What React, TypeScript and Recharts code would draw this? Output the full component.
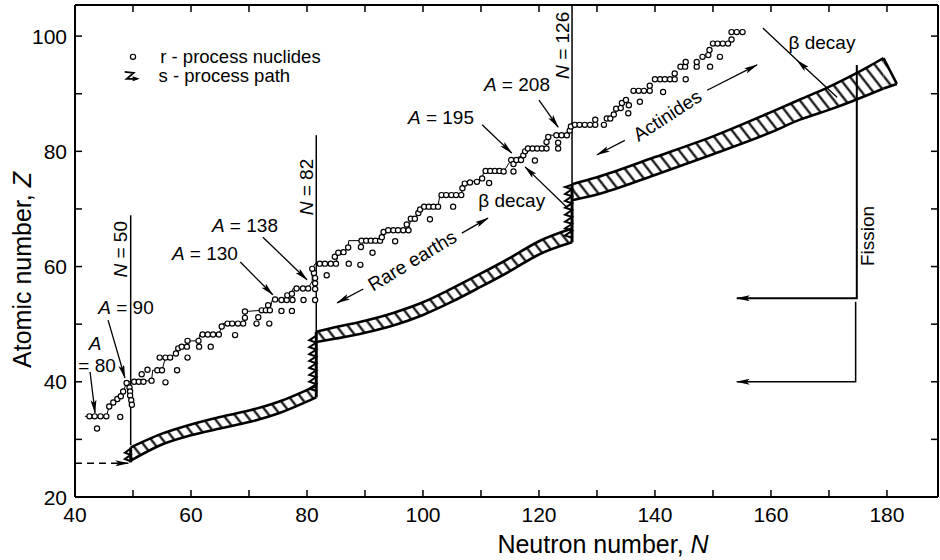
import React from "react";
import { ComposedChart, XAxis, YAxis, Line, Area, Scatter } from "recharts";

const FONT = "'Liberation Sans', Arial, Helvetica, sans-serif";

// ---------- axes ----------
const xTicks = [40, 50, 60, 70, 80, 90, 100, 110, 120, 130, 140, 150, 160, 170, 180];
const xTickLabels = [40, 60, 80, 100, 120, 140, 160, 180];
const yTicks = [20, 30, 40, 50, 60, 70, 80, 90, 100];
const yTickLabels = [20, 40, 60, 80, 100];
const xDomain = [40, 188.8];
const yDomain = [20, 105.4];

// ---------- r-process nuclides (N, Z) ----------
const rNuclides: [number, number][] = [
  [42.5, 34], [43.4, 34], [44.4, 34], [45.4, 34], [43.8, 31.9], [47.8, 33.9],
  [45.9, 35.7], [46.6, 36.4], [47.3, 37.0], [47.9, 37.5], [48.3, 38.3],
  [48.9, 39.8], [49.4, 39.0], [49.5, 38.3], [49.5, 37.6], [49.7, 36.8], [49.8, 36.0],
  [50.2, 40], [51.0, 40], [51.8, 40], [53.2, 40.2], [55.6, 39.9],
  [51.5, 41.3], [52.5, 42.1], [54.2, 42], [55.0, 42], [57.6, 42],
  [54.6, 44.2], [55.6, 44.2], [56.4, 44.2], [57.4, 44.9], [57.8, 45.8], [58.4, 46.1], [59.3, 46.1],
  [59.4, 47.1], [59.4, 44.2], [61.3, 47.1], [61.4, 46.1], [63.4, 46.1],
  [62.0, 48.2], [62.9, 48.2], [63.8, 48.2], [64.8, 48.2], [67.6, 48.1],
  [65.3, 49.6], [66.3, 50.1], [67.1, 50.1], [68.1, 50.1], [69.0, 50.1], [69.3, 51.1], [69.3, 52.2],
  [71.3, 50.1], [71.6, 51.2], [73.5, 50.1],
  [72.2, 52.4], [72.9, 52.4], [73.3, 53.3], [73.6, 52.4], [74.5, 54.3],
  [75.6, 52.3], [77.4, 52.3],
  [75.6, 54.2], [76.5, 54.2], [76.6, 55.0], [77.4, 55.3], [77.5, 54.2],
  [78.2, 56.2], [79.3, 56.2], [80.2, 56.2], [79.4, 54.2], [81.4, 54.2],
  [81.4, 56.1], [81.4, 57.1], [81.4, 58.0], [81.2, 58.9], [80.9, 59.6],
  [82.2, 60.5], [83.1, 60.5], [84.1, 60.5], [85.0, 60.5], [87.2, 60.5], [89.2, 60.3], [83.4, 58.5],
  [84.8, 61.7], [85.4, 62.4], [86.3, 62.5], [87.1, 63.3], [91.3, 62.4],
  [89.3, 63.4], [89.4, 64.5], [90.2, 64.5], [91.0, 64.5], [91.8, 64.5], [92.6, 64.5],
  [92.9, 65.1], [93.2, 66.0], [94.0, 66.3], [94.9, 66.3], [95.7, 66.3], [96.6, 66.3], [97.5, 66.3], [95.2, 64.4],
  [97.2, 67.3], [97.9, 68.3], [98.6, 68.3], [99.2, 69.3], [99.5, 69.9],
  [100.2, 70.4], [101.0, 70.4], [101.8, 70.4], [102.6, 70.4], [101.2, 68.2],
  [103.2, 72.4], [104.0, 72.4], [104.9, 72.4], [105.7, 72.4], [106.6, 72.4], [105.2, 70.4],
  [106.8, 73.6], [107.2, 74.4], [108.1, 74.6], [109.3, 74.7], [110.2, 75.3], [111.4, 74.5],
  [110.8, 76.6], [111.6, 76.6], [112.4, 76.6], [113.2, 76.6], [113.9, 76.5], [115.6, 76.5],
  [115.2, 78.5], [115.6, 77.8], [116.1, 78.5], [116.9, 78.5], [117.3, 79.3], [117.6, 80.0], [119.3, 78.4],
  [118.1, 80.5], [118.9, 80.5], [119.7, 80.5], [120.5, 80.5], [121.3, 80.5],
  [121.3, 81.6], [121.6, 82.5], [123.3, 81.5], [123.3, 80.5],
  [123.0, 82.8], [123.9, 82.8], [124.8, 82.8], [125.3, 83.6], [125.5, 84.3],
  [126.2, 84.6], [127.0, 84.6], [127.9, 84.6], [128.8, 84.6], [129.7, 84.6], [129.7, 85.5],
  [131.2, 84.6], [131.7, 85.7], [132.3, 85.7], [132.9, 86.4], [133.3, 87.4], [134.1, 87.5],
  [134.3, 88.4], [135.0, 88.9], [135.4, 86.6], [135.5, 88.0],
  [136.3, 90.5], [137.2, 90.5], [138.1, 90.5], [139.1, 90.5], [139.1, 91.4], [137.4, 88.6], [141.4, 90.3],
  [140.0, 92.5], [140.9, 92.5], [141.7, 92.5], [142.6, 92.5], [143.4, 92.5], [143.4, 93.5], [145.3, 92.5],
  [144.4, 94.7], [145.2, 94.7], [145.3, 95.5], [147.2, 94.7], [147.2, 95.5], [149.5, 94.7],
  [148.2, 96.4], [149.2, 96.7], [149.4, 97.6], [151.2, 96.4],
  [150.0, 98.7], [150.8, 98.7], [151.7, 98.7], [152.6, 98.7], [153.2, 99.4],
  [153.2, 100.7], [154.1, 100.7], [155.1, 100.7],
];

// thin r-process path
const rPath: [number, number][] = [
  [41.7, 34], [45.4, 34], [45.9, 35.7], [46.6, 36.4], [47.3, 37.0], [47.9, 37.5], [48.3, 38.3],
  [48.9, 39.8], [49.3, 40], [53.2, 40.2], [53.4, 42.0], [55.0, 42], [55.6, 44.2], [56.4, 44.2],
  [57.4, 44.9], [57.8, 45.8], [58.4, 46.1], [59.4, 46.1], [59.4, 47.1], [61.3, 47.1], [61.5, 48.2],
  [64.8, 48.2], [65.3, 49.6], [65.5, 50.1], [69.0, 50.1], [69.3, 51.1], [69.3, 52.2], [72.2, 52.4],
  [73.6, 52.4], [74.0, 54.2], [76.5, 54.2], [76.6, 55.0], [77.4, 55.3], [77.6, 56.2], [80.2, 56.2],
  [80.9, 57.5], [80.9, 59.6], [81.4, 60.5], [85.0, 60.5], [85.4, 62.4], [86.3, 62.5], [87.1, 63.3],
  [87.2, 64.5], [92.6, 64.5], [92.9, 65.1], [93.2, 66.0], [93.4, 66.3], [97.5, 66.3], [97.9, 68.3],
  [98.6, 68.3], [99.2, 69.3], [99.5, 69.9], [99.8, 70.4], [102.6, 70.4], [102.9, 72.4], [106.6, 72.4],
  [106.8, 73.6], [107.2, 74.4], [108.1, 74.6], [110.2, 75.3], [110.5, 76.6], [113.9, 76.5],
  [115.2, 78.5], [117.3, 79.3], [117.6, 80.0], [118.1, 80.5], [121.3, 80.5], [121.3, 81.6],
  [121.6, 82.5], [121.8, 82.8], [124.8, 82.8], [125.3, 83.6], [125.5, 84.3], [126.2, 84.6], [129.7, 84.6],
];

// ---------- s-process band (N, lower Z, upper Z) ----------
const band1: [number, number, number][] = [
  [49.6, 26.3, 28.6], [55, 29.1, 31.0], [60, 30.7, 32.6], [65, 31.9, 33.9],
  [70, 33.0, 35.0], [75, 34.5, 36.5], [81.6, 37.3, 39.3],
];
const band2: [number, number, number][] = [
  [81.6, 46.9, 48.7], [85, 47.5, 49.5], [90, 48.5, 50.6], [95, 49.8, 52.0], [100, 51.6, 53.8],
  [105, 53.9, 56.2], [110, 56.5, 58.8], [115, 59.2, 61.5], [120, 62.1, 64.4], [125.7, 64.2, 66.6],
];
const band3: [number, number, number][] = [
  [125.7, 71.5, 74.3], [130, 72.5, 75.5], [140, 75.9, 79.0], [150, 79.5, 82.6], [160, 83.3, 86.8],
  [165, 85.5, 89.0], [170, 87.2, 91.2], [174, 88.7, 93.2], [177, 89.9, 94.8], [179.4, 90.9, 96.2],
];
const band3Cap: [number, number, number][] = [[179.4, 90.9, 96.2], [181.7, 91.7, 91.7]];

// zig-zag (s-process steps at closed shells)
const zig50: [number, number][] = [[49.6, 26.2], [48.6, 26.6], [49.6, 27.3], [48.6, 27.7], [49.6, 28.4]];
const zig82: [number, number][] = [
  [81.6, 38.4], [80.4, 38.8], [81.6, 39.6], [80.4, 40.0], [81.6, 40.8], [80.4, 41.2], [81.6, 42.0],
  [80.4, 42.4], [81.6, 43.2], [80.4, 43.6], [81.6, 44.4], [80.4, 44.8], [81.6, 45.6], [80.4, 46.0],
  [81.6, 46.8], [80.4, 47.2], [81.6, 48.0],
];
const zig126: [number, number][] = [
  [125.7, 65.0], [124.5, 65.4], [125.7, 66.2], [124.5, 66.6], [125.7, 67.4], [124.5, 67.8],
  [125.7, 68.6], [124.5, 69.0], [125.7, 69.8], [124.5, 70.2], [125.7, 71.0], [124.5, 71.4],
  [125.7, 72.2], [124.5, 72.6], [125.7, 73.4], [124.5, 73.8], [125.7, 74.2],
];
const spine50: [number, number][] = [[49.6, 26.0], [49.6, 28.6]];
const spine82: [number, number][] = [[81.6, 37.3], [81.6, 48.7]];
const spine126: [number, number][] = [[125.7, 64.2], [125.7, 74.3]];

// closed-shell marker lines
const n50Line: [number, number][] = [[49.6, 29.0], [49.6, 68.9]];
const n82Line: [number, number][] = [[81.6, 48.5], [81.6, 82.8]];
const n126Line: [number, number][] = [[125.7, 74.3], [125.7, 105.4]];

// dashed incoming path
const dashedIn: [number, number][] = [[40, 25.85], [49.2, 25.85]];

// annotation arrows (tail -> tip)
const arrA80: [number, number][] = [[42.6, 41.7], [43.45, 34.6]];
const arrA90: [number, number][] = [[45.7, 50.7], [48.6, 40.7]];
const arrA130: [number, number][] = [[68.5, 60.8], [74.1, 55.1]];
const arrA138: [number, number][] = [[72.4, 65.1], [80.0, 57.7]];
const arrA195: [number, number][] = [[110.2, 84.6], [115.3, 79.7]];
const arrA208: [number, number][] = [[120.0, 88.9], [123.3, 84.2]];
const arrBeta1: [number, number][] = [[124.8, 70.3], [117.6, 77.3]];
const arrRareL: [number, number][] = [[89.7, 56.1], [85.2, 53.7]];
const arrRareR: [number, number][] = [[106.7, 65.8], [111.2, 68.4]];
const arrActL: [number, number][] = [[134.8, 81.9], [130.0, 79.4]];
const arrActR: [number, number][] = [[149.0, 90.6], [157.6, 95.0]];
const arrBeta2: [number, number][] = [[171.4, 89.4], [164.5, 95.8], [158.6, 101.4]];
const fission1: [number, number][] = [[174.8, 95.0], [174.8, 54.5], [154.1, 54.5]];
const fission2: [number, number][] = [[174.6, 53.9], [174.6, 40.0], [154.1, 40.0]];

type Part = [string, boolean];
interface Annot { N: number; Z: number; parts: Part[]; rot?: number; size?: number; anchor?: string; kind?: string }

const annotations: Annot[] = [
  { N: 47.8, Z: 63.0, parts: [["N", true], [" = 50", false]], rot: -90 },
  { N: 79.8, Z: 73.8, parts: [["N", true], [" = 82", false]], rot: -90 },
  { N: 124.0, Z: 98.4, parts: [["N", true], [" = 126", false]], rot: -90 },
  { N: 43.45, Z: 46.7, parts: [["A", true]] },
  { N: 43.8, Z: 42.9, parts: [["= 80", false]] },
  { N: 48.8, Z: 53.0, parts: [["A", true], [" = 90", false]] },
  { N: 62.4, Z: 62.3, parts: [["A", true], [" = 130", false]] },
  { N: 69.3, Z: 67.2, parts: [["A", true], [" = 138", false]] },
  { N: 103.1, Z: 85.9, parts: [["A", true], [" = 195", false]] },
  { N: 116.2, Z: 91.7, parts: [["A", true], [" = 208", false]] },
  { N: 115.3, Z: 71.5, parts: [["β decay", false]] },
  { N: 168.8, Z: 99.0, parts: [["β decay", false]] },
  { N: 98.1, Z: 61.1, parts: [["Rare earths", false]], rot: -31 },
  { N: 142.1, Z: 86.3, parts: [["Actinides", false]], rot: -33 },
  { N: 176.6, Z: 65.3, parts: [["Fission", false]], rot: -90 },
  { N: 54.7, Z: 96.6, parts: [["r - process nuclides", false]], anchor: "start", size: 18.5 },
  { N: 54.4, Z: 93.2, parts: [["s - process path", false]], anchor: "start", size: 18.5 },
  { N: 50.0, Z: 96.4, parts: [], kind: "dot" },
  { N: 49.6, Z: 93.1, parts: [], kind: "zig" },
];

const pts = (rows: [number, number][]) => rows.map(([N, Z]) => ({ N, Z }));
const bandPts = (rows: [number, number, number][]) => rows.map(([N, lo, hi]) => ({ N, r: [lo, hi] }));

const BottomTick = (p: any) => {
  const { x, y, payload } = p;
  const v = payload.value;
  return (
    <g>
      <line x1={x} y1={y} x2={x} y2={y - 7} stroke="#000" strokeWidth={1.5} />
      {xTickLabels.includes(v) && (
        <text x={x} y={y + 25} textAnchor="middle" fontSize={21} fontFamily={FONT} fill="#000">{v}</text>
      )}
    </g>
  );
};
const TopTick = (p: any) => {
  const { x, y } = p;
  return <line x1={x} y1={y} x2={x} y2={y + 7} stroke="#000" strokeWidth={1.5} />;
};
const LeftTick = (p: any) => {
  const { x, y, payload } = p;
  const v = payload.value;
  return (
    <g>
      <line x1={x} y1={y} x2={x + 7} y2={y} stroke="#000" strokeWidth={1.5} />
      {yTickLabels.includes(v) && (
        <text x={x - 8} y={y + 7.5} textAnchor="end" fontSize={21} fontFamily={FONT} fill="#000">{v}</text>
      )}
    </g>
  );
};
const RightTick = (p: any) => {
  const { x, y } = p;
  return <line x1={x} y1={y} x2={x - 7} y2={y} stroke="#000" strokeWidth={1.5} />;
};

const Circ = (p: any) => (
  <circle cx={p.cx} cy={p.cy} r={2.6} fill="#fff" stroke="#000" strokeWidth={1.2} />
);

const AnnotShape = (p: any) => {
  const { cx, cy, payload } = p;
  const a: Annot = payload;
  if (a.kind === "dot") return <circle cx={cx} cy={cy} r={2.6} fill="#fff" stroke="#000" strokeWidth={1.2} />;
  if (a.kind === "zig")
    return (
      <g>
        <path d={`M${cx - 6},${cy - 4} L${cx + 3},${cy - 3} L${cx - 4},${cy + 3} L${cx + 6},${cy + 3}`} fill="none" stroke="#000" strokeWidth={1.8} />
        <path d={`M${cx + 9},${cy + 3} L${cx + 2},${cy + 0.5} L${cx + 2},${cy + 5.5} z`} fill="#000" />
      </g>
    );
  const rot = a.rot || 0;
  return (
    <text
      x={cx}
      y={cy}
      transform={rot ? `rotate(${rot} ${cx} ${cy})` : undefined}
      textAnchor={a.anchor || "middle"}
      dominantBaseline="central"
      fontSize={a.size || 19}
      fontFamily={FONT}
      fill="#000"
      style={{ whiteSpace: "pre" }}
    >
      {a.parts.map(([t, it], i) => (
        <tspan key={i} fontStyle={it ? "italic" : "normal"}>{t}</tspan>
      ))}
    </text>
  );
};

const XTitle = (p: any) => {
  const vb = p.viewBox || { x: 75, y: 497, width: 863, height: 63 };
  return (
    <text x={vb.x + 528} y={vb.y + 56} textAnchor="middle" fontSize={25} fontFamily={FONT} fill="#000" style={{ whiteSpace: "pre" }}>
      <tspan>Neutron number, </tspan>
      <tspan fontStyle="italic">N</tspan>
    </text>
  );
};
const YTitle = (p: any) => {
  const vb = p.viewBox || { x: 0, y: 5, width: 75, height: 492 };
  const cx = vb.x + 22;
  const cy = vb.y + 265;
  return (
    <text x={cx} y={cy} transform={`rotate(-90 ${cx} ${cy})`} textAnchor="middle" dominantBaseline="central" fontSize={25} fontFamily={FONT} fill="#000" style={{ whiteSpace: "pre" }}>
      <tspan>Atomic number, </tspan>
      <tspan fontStyle="italic">Z</tspan>
    </text>
  );
};

const simpleLine = (key: string, rows: [number, number][], w: number, extra: any = {}) => (
  <Line
    key={key}
    data={pts(rows)}
    dataKey="Z"
    type="linear"
    stroke="#000"
    strokeWidth={w}
    dot={false}
    activeDot={false}
    isAnimationActive={false}
    legendType="none"
    {...extra}
  />
);

const arrowSet: [string, [number, number][]][] = [
  ["a80", arrA80], ["a90", arrA90], ["a130", arrA130], ["a138", arrA138], ["a195", arrA195],
  ["a208", arrA208], ["b1", arrBeta1], ["rl", arrRareL], ["rr", arrRareR], ["al", arrActL], ["ar", arrActR],
];

const bandProps = {
  dataKey: "r",
  fill: "url(#hatch)",
  fillOpacity: 1,
  stroke: "#000",
  strokeWidth: 2.6,
  isAnimationActive: false,
  legendType: "none" as const,
  activeDot: false,
  dot: false,
};

export default function App() {
  return (
    <div style={{ position: "absolute", left: 0, top: 0, width: 940, height: 560, background: "#fff" }}>
      <ComposedChart width={940} height={560} margin={{ top: 0, right: 0, bottom: 0, left: 0 }}>
        <defs>
          <pattern id="hatch" patternUnits="userSpaceOnUse" width="9" height="10" patternTransform="rotate(-38)">
            <rect width="9" height="10" fill="#fff" />
            <line x1="1.5" y1="-1" x2="1.5" y2="11" stroke="#000" strokeWidth="2.1" />
          </pattern>
          <marker id="ah" viewBox="0 0 14 6" refX="13" refY="3" markerWidth="14" markerHeight="6" orient="auto" markerUnits="userSpaceOnUse">
            <path d="M0,0 L14,3 L0,6 L3,3 z" fill="#000" />
          </marker>
        </defs>
        <XAxis
          xAxisId={0}
          type="number"
          dataKey="N"
          domain={xDomain}
          allowDataOverflow
          ticks={xTicks}
          interval={0}
          height={63}
          tickSize={0}
          tickMargin={0}
          tickLine={false}
          axisLine={{ stroke: "#000", strokeWidth: 2 }}
          tick={(p: any) => <BottomTick {...p} />}
          label={(p: any) => <XTitle {...p} />}
        />
        <XAxis
          xAxisId="top"
          orientation="top"
          type="number"
          dataKey="N"
          domain={xDomain}
          allowDataOverflow
          ticks={xTicks}
          interval={0}
          height={5}
          tickSize={0}
          tickMargin={0}
          tickLine={false}
          axisLine={{ stroke: "#000", strokeWidth: 2 }}
          tick={(p: any) => <TopTick {...p} />}
        />
        <YAxis
          yAxisId={0}
          type="number"
          dataKey="Z"
          domain={yDomain}
          allowDataOverflow
          ticks={yTicks}
          interval={0}
          width={75}
          tickSize={0}
          tickMargin={0}
          tickLine={false}
          axisLine={{ stroke: "#000", strokeWidth: 2 }}
          tick={(p: any) => <LeftTick {...p} />}
          label={(p: any) => <YTitle {...p} />}
        />
        <YAxis
          yAxisId="right"
          orientation="right"
          type="number"
          dataKey="Z"
          domain={yDomain}
          allowDataOverflow
          ticks={yTicks}
          interval={0}
          width={2}
          tickSize={0}
          tickMargin={0}
          tickLine={false}
          axisLine={{ stroke: "#000", strokeWidth: 2 }}
          tick={(p: any) => <RightTick {...p} />}
        />

        {/* s-process band */}
        <Area data={bandPts(band1)} type="monotone" {...bandProps} />
        <Area data={bandPts(band2)} type="monotone" {...bandProps} />
        <Area data={bandPts(band3)} type="monotone" {...bandProps} />
        <Area data={bandPts(band3Cap)} type="linear" {...bandProps} />

        {simpleLine("zig50", zig50, 2)}
        {simpleLine("zig82", zig82, 2)}
        {simpleLine("zig126", zig126, 2)}
        {simpleLine("sp50", spine50, 3)}
        {simpleLine("sp82", spine82, 3)}
        {simpleLine("sp126", spine126, 3)}

        {simpleLine("n50", n50Line, 1.5)}
        {simpleLine("n82", n82Line, 1.5)}
        {simpleLine("n126", n126Line, 1.5)}

        {simpleLine("dash", dashedIn, 1.5, { strokeDasharray: "7 5", markerEnd: "url(#ah)" })}

        {arrowSet.map(([k, rows]) => simpleLine(k, rows, 1.3, { markerEnd: "url(#ah)" }))}
        {simpleLine("beta2", arrBeta2, 1.3, { markerMid: "url(#ah)" })}
        {simpleLine("fis1", fission1, 2, { markerEnd: "url(#ah)" })}
        {simpleLine("fis2", fission2, 1.5, { markerEnd: "url(#ah)" })}

        {simpleLine("rpath", rPath, 1)}
        <Scatter data={pts(rNuclides)} shape={(p: any) => <Circ {...p} />} isAnimationActive={false} legendType="none" />
        <Scatter data={annotations} shape={(p: any) => <AnnotShape {...p} />} isAnimationActive={false} legendType="none" />
      </ComposedChart>
    </div>
  );
}
